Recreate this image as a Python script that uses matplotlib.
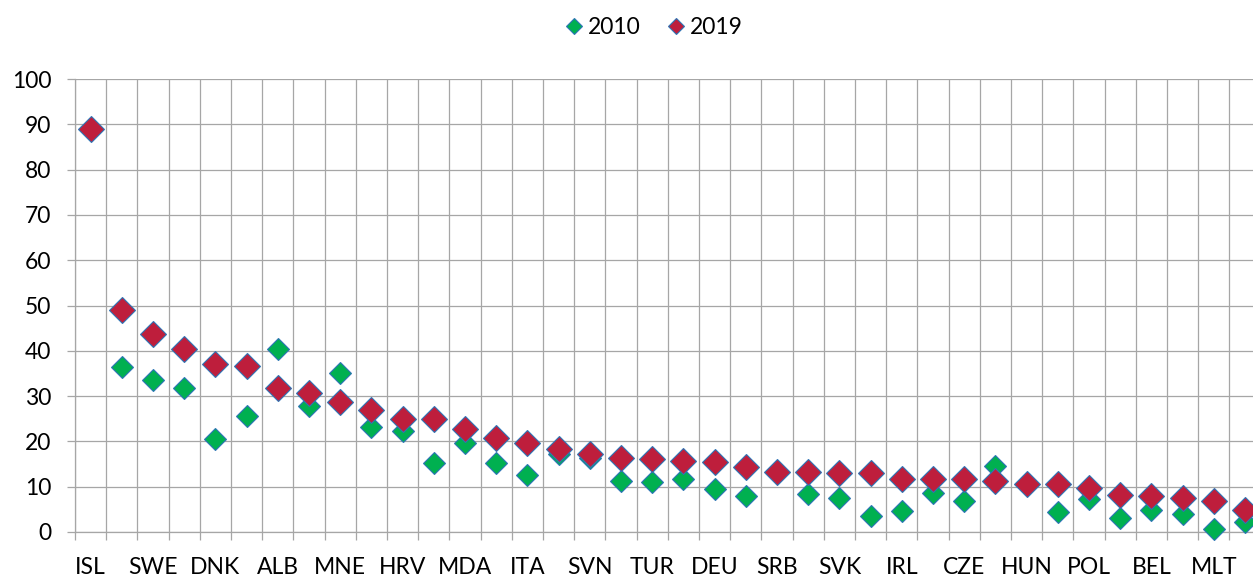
import matplotlib
matplotlib.use("Agg")
import matplotlib.pyplot as plt
from matplotlib.lines import Line2D

plt.rcParams['font.family'] = ['Lato', 'DejaVu Sans']

# country codes (only every second one is shown on the axis)
countries = ["ISL", "NOR", "SWE", "FIN", "DNK", "NLD", "ALB", "GBR", "MNE", "AUT",
             "HRV", "ESP", "MDA", "FRA", "ITA", "PRT", "SVN", "LUX", "TUR", "EST",
             "DEU", "LVA", "SRB", "MKD", "SVK", "LTU", "IRL", "BGR", "CZE", "ROU",
             "HUN", "GRC", "POL", "CYP", "BEL", "UKR", "MLT", "ARM"]

v2010 = [88.9, 36.4, 33.6, 31.7, 20.5, 25.6, 40.4, 27.8, 35.2, 23.2,
         22.3, 15.2, 19.6, 15.2, 12.6, 17.2, 16.3, 11.3, 11.1, 11.8,
         9.5, 7.9, 13.3, 8.4, 7.4, 3.6, 4.7, 8.5, 6.9, 14.6,
         10.7, 4.5, 7.3, 3.0, 4.9, 3.9, 0.6, 2.1]

v2019 = [88.9, 49.0, 43.6, 40.5, 37.1, 36.6, 31.7, 30.6, 28.8, 26.9,
         24.9, 24.9, 22.7, 20.8, 19.6, 18.4, 17.2, 16.4, 16.2, 15.6,
         15.4, 14.3, 13.3, 13.3, 13.0, 13.0, 11.7, 11.7, 11.6, 11.3,
         10.7, 10.7, 9.8, 8.2, 8.0, 7.6, 6.9, 4.9]

n = len(countries)
x = list(range(n))

fig = plt.figure(figsize=(12.53, 5.77), dpi=100)
ax = fig.add_axes([75 / 1253, 45 / 577, 38 * 31.2 / 1253, 453 / 577])

edge = '#2E75B6'
green = '#00B050'
red = '#BE1E3C'
ax.plot(x, v2010, linestyle='none', marker='D', ms=11, mfc=green,
        mec=edge, mew=0.8, clip_on=False, zorder=3)
ax.plot(x, v2019, linestyle='none', marker='D', ms=13, mfc=red,
        mec=edge, mew=0.8, clip_on=False, zorder=4)

ax.set_xlim(-0.5, n - 0.5)
ax.set_ylim(0, 100)
ax.set_yticks(range(0, 101, 10))

# gridlines on category boundaries, labels on every second category
ax.set_xticks([i - 0.5 for i in range(n + 1)])
ax.set_xticklabels([])
ax.set_xticks(x[::2], minor=True)
ax.set_xticklabels(countries[::2], minor=True)

grid_c = '#A6A6A6'
fs = 16.5
ax.grid(True, which='major', color=grid_c, linewidth=0.9)
ax.tick_params(axis='both', which='major', direction='out', length=6,
               color=grid_c, width=0.9, labelsize=fs, pad=11)
ax.tick_params(axis='x', which='minor', length=0, pad=18, labelsize=fs)
for s in ['top', 'right']:
    ax.spines[s].set_visible(False)
for s in ['left', 'bottom']:
    ax.spines[s].set_color(grid_c)
    ax.spines[s].set_linewidth(0.9)
ax.set_axisbelow(True)

handles = [Line2D([], [], linestyle='none', marker='D', ms=8.5, mfc=green, mec=edge, mew=0.8),
           Line2D([], [], linestyle='none', marker='D', ms=8.5, mfc=red, mec=edge, mew=0.8)]
fig.legend(handles, ['2010', '2019'], loc='upper center', bbox_to_anchor=(0.521, 1.007),
           ncol=2, frameon=False, fontsize=fs, handletextpad=0.15,
           columnspacing=1.1, handlelength=0.9)

fig.savefig('out.png', dpi=100)
